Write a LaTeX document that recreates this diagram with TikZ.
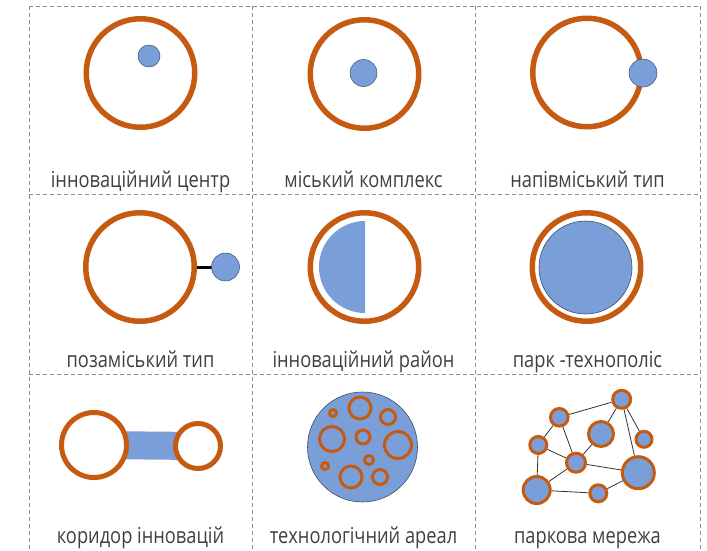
\documentclass[tikz,border=0pt]{standalone}
\usepackage{fontspec}
\setmainfont{Open Sans}
\usepackage{graphicx}
\usetikzlibrary{backgrounds}
\pgfdeclarelayer{paper}
\pgfsetlayers{paper,background,main}
\definecolor{ringc}{HTML}{C55A11}
\definecolor{blueone}{HTML}{7A9FD8}
\definecolor{outl}{HTML}{3B4E6E}
\definecolor{gridc}{HTML}{8C8C8C}
\definecolor{txt}{HTML}{404040}
\definecolor{edgec}{HTML}{333333}
\newcommand{\sqz}[1]{\scalebox{0.83}[1]{#1}}
\tikzset{
  gridline/.style={draw=gridc, line width=0.8pt, dash pattern=on 4pt off 3pt},
  bigring/.style={circle, draw=ringc, line width=5.5pt, minimum size=108.5pt, inner sep=0pt},
  dot/.style={circle, fill=blueone, draw=outl, line width=0.5pt, inner sep=0pt},
  lbl/.style={anchor=base, text=txt, font=\fontsize{22}{26}\selectfont, inner sep=0pt},
  smallring/.style={draw=ringc, line width=3pt},
  netnode/.style={circle, fill=blueone, draw=ringc, line width=3pt, inner sep=0pt},
  netedge/.style={draw=edgec, line width=0.8pt},
}
\begin{document}
\begin{tikzpicture}[x=1pt, y=-1pt]
\useasboundingbox (0,0) rectangle (707,550);
\begin{pgfonlayer}{paper}
\fill[white] (0,0) rectangle (707,550);
\end{pgfonlayer}
% grid
\draw[gridline] (29,6) -- (29,550);
\draw[gridline] (252,6) -- (252,550);
\draw[gridline] (475,6) -- (475,550);
\draw[gridline] (700,6) -- (700,550);
\draw[gridline] (29,6) -- (700,6);
\draw[gridline] (29,194) -- (700,194);
\draw[gridline] (29,374) -- (700,374);

% cell 1
\node[bigring] (r1) at (140.5,73) {};
\node[dot, minimum size=22pt] (d1) at (149,56) {};
\node[lbl] (t1) at (140.5,187) {\sqz{інноваційний центр}};

% cell 2
\node[bigring] (r2) at (364.5,74) {};
\node[dot, minimum size=27pt] (d2) at (363.5,73) {};
\node[lbl] (t2) at (363.5,187) {\sqz{міський комплекс}};

% cell 3
\node[bigring] (r3) at (587,72.5) {};
\node[dot, minimum size=28pt] (d3) at (643,73) {};
\node[lbl] (t3) at (587.5,187) {\sqz{напівміський тип}};

% cell 4
\node[bigring, fill=white] (r4) at (140,267) {};
\node[dot, minimum size=28pt] (d4) at (225.5,267) {};
\begin{scope}[on background layer]
\draw[line width=3pt, black] (r4.center) -- (d4.center);
\end{scope}
\node[lbl] (t4) at (140.5,367) {\sqz{позаміський тип}};

% cell 5
\node[bigring] (r5) at (364.5,267) {};
\fill[blueone] (365,221) arc[start angle=90, end angle=270, radius=46pt] -- cycle;
\node[lbl] (t5) at (363.5,367) {\sqz{інноваційний район}};

% cell 6
\node[bigring] (r6) at (586.5,267) {};
\node[dot, line width=0.6pt, minimum size=93pt] (d6) at (585.5,267.5) {};
\node[lbl] (t6) at (587.5,367) {\sqz{парк -технополіс}};

% cell 7
\node[circle, draw=ringc, fill=white, line width=5pt, minimum size=65pt, inner sep=0pt] (c7a) at (94,445) {};
\node[circle, draw=ringc, fill=white, line width=5pt, minimum size=45pt, inner sep=0pt] (c7b) at (198,446) {};
\begin{scope}[on background layer]
\draw[blueone, line width=28pt] (c7a.center) -- (c7b.center);
\end{scope}
\node[lbl] (t7) at (140.5,543) {\sqz{коридор інновацій}};

% cell 8
\node[dot, line width=0.6pt, minimum size=110pt] (d8) at (362.5,447) {};
\draw[smallring] (360,408) circle[radius=11pt];
\draw[smallring] (333,413) circle[radius=3.5pt];
\draw[smallring] (388,417) circle[radius=7.5pt];
\draw[smallring] (332,439) circle[radius=12.5pt];
\draw[smallring] (363,437) circle[radius=7pt];
\draw[smallring] (398,445) circle[radius=13.5pt];
\draw[smallring] (369,460) circle[radius=4.5pt];
\draw[smallring] (325,466) circle[radius=3.5pt];
\draw[smallring] (351,477) circle[radius=11pt];
\draw[smallring] (380,477) circle[radius=7.5pt];
\node[lbl] (t8) at (363.5,543) {\sqz{технологічний ареал}};

% cell 9
\node[netnode, minimum size=18pt] (A) at (621.7,399.3) {};
\node[netnode, minimum size=17.6pt] (B) at (559.3,417.3) {};
\node[netnode, minimum size=25pt] (C) at (601,434) {};
\node[netnode, minimum size=16pt] (D) at (644,439.3) {};
\node[netnode, minimum size=17pt] (E) at (538.3,445) {};
\node[netnode, minimum size=19pt] (F) at (576,462.7) {};
\node[netnode, minimum size=32pt] (G) at (638.3,472.7) {};
\node[netnode, minimum size=27pt] (H) at (536.7,490) {};
\node[netnode, minimum size=17pt] (I) at (598.3,493.3) {};
\begin{scope}[on background layer]
\draw[netedge] (B) -- (A);
\draw[netedge] (A) -- (C);
\draw[netedge] (A) -- (G);
\draw[netedge] (A) -- (D);
\draw[netedge] (B) -- (E);
\draw[netedge] (B) -- (F);
\draw[netedge] (E) -- (F);
\draw[netedge] (E) -- (H);
\draw[netedge] (F) -- (H);
\draw[netedge] (F) -- (C);
\draw[netedge] (F) -- (G);
\draw[netedge] (H) -- (I);
\draw[netedge] (I) -- (G);
\end{scope}
\node[lbl] (t9) at (587.5,543) {\sqz{паркова мережа}};
\end{tikzpicture}
\end{document}
